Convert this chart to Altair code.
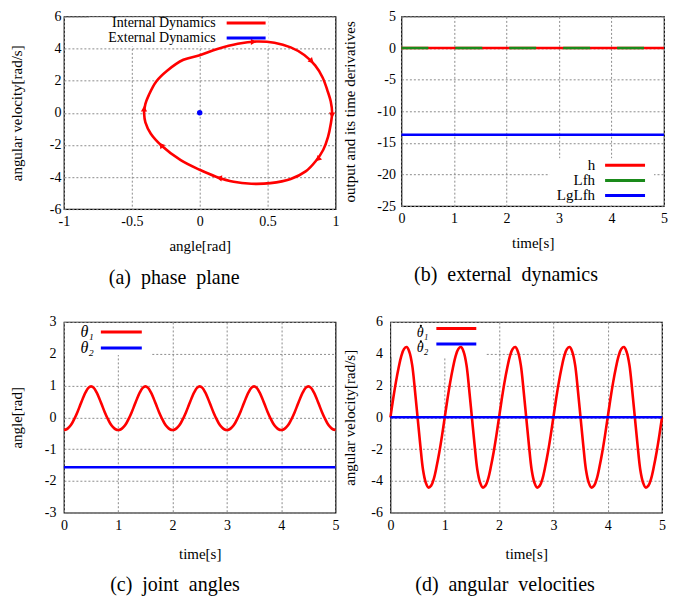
import altair as alt
import pandas as pd

FONT = "Liberation Serif"
RED = "#ff0000"
BLUE = "#0000ff"
GREEN = "#1a8a1a"
MINUS = "replace(datum.label, '\u2212', '-')"

# ---------------- (a) phase plane ----------------
PHASE_ANGLE = [-0.41, -0.40, -0.375, -0.32, -0.24, -0.12, 0.00, 0.13, 0.28, 0.42, 0.55, 0.67, 0.77, 0.85, 0.905, 0.94, 0.965, 0.975,
               0.965, 0.945, 0.91, 0.855, 0.78, 0.67, 0.52, 0.38, 0.25, 0.12, 0.00, -0.14, -0.28, -0.36, -0.40, -0.41]
PHASE_VELOCITY = [0.0, 0.55, 1.1, 1.95, 2.62, 3.3, 3.58, 3.97, 4.3, 4.44, 4.36, 4.07, 3.6, 2.95, 2.2, 1.4, 0.7, 0.0,
                  -0.7, -1.5, -2.3, -3.0, -3.65, -4.12, -4.38, -4.42, -4.3, -3.98, -3.55, -2.95, -2.05, -1.3, -0.6, 0.0]
ARROW_ANGLE = [0.39, 0.82, 0.975, 0.875, 0.15, -0.28, -0.41]
ARROW_VELOCITY = [4.42, 3.25, -0.1, -2.85, -4.07, -2.05, 0.2]
ARROW_HEADING = [90, 135, 180, 225, 277, 320, 0]
EQ_ANGLE = [0.0]
EQ_VELOCITY = [0.0]
A_XTICKS = [-1, -0.5, 0, 0.5, 1]
A_YTICKS = [-6, -4, -2, 0, 2, 4, 6]
A_NAMES = ["Internal Dynamics", "External Dynamics"]

# ---------------- (b) external dynamics ----------------
B_TIME = [0, 5]
H_VALUES = [0.0, 0.0]
LFH_VALUES = [0.0, 0.0]
LGLFH_VALUES = [-13.7, -13.7]
B_XTICKS = [0, 1, 2, 3, 4, 5]
B_YTICKS = [-25, -20, -15, -10, -5, 0, 5]
B_NAMES = ["h", "Lfh", "LgLfh"]

# ---------------- (c), (d) joint angles / velocities ----------------
TIME = [round(0.05 * i, 2) for i in range(101)]
THETA1 = [
    -0.40, -0.375, -0.30, -0.185, -0.02, 0.17, 0.385, 0.60, 0.79, 0.925, 0.975, 0.925, 0.79, 0.60, 0.385, 0.17, -0.02, -0.185, -0.30, -0.375,
    -0.40, -0.375, -0.30, -0.185, -0.02, 0.17, 0.385, 0.60, 0.79, 0.925, 0.975, 0.925, 0.79, 0.60, 0.385, 0.17, -0.02, -0.185, -0.30, -0.375,
    -0.40, -0.375, -0.30, -0.185, -0.02, 0.17, 0.385, 0.60, 0.79, 0.925, 0.975, 0.925, 0.79, 0.60, 0.385, 0.17, -0.02, -0.185, -0.30, -0.375,
    -0.40, -0.375, -0.30, -0.185, -0.02, 0.17, 0.385, 0.60, 0.79, 0.925, 0.975, 0.925, 0.79, 0.60, 0.385, 0.17, -0.02, -0.185, -0.30, -0.375,
    -0.40, -0.375, -0.30, -0.185, -0.02, 0.17, 0.385, 0.60, 0.79, 0.925, 0.975, 0.925, 0.79, 0.60, 0.385, 0.17, -0.02, -0.185, -0.30, -0.375,
    -0.40]
OMEGA1 = [
    0.0, 1.15, 2.2, 3.1, 3.85, 4.3, 4.42, 4.1, 3.3, 1.75, 0.0, -1.75, -3.3, -4.1, -4.42, -4.3, -3.85, -3.1, -2.2, -1.15,
    0.0, 1.15, 2.2, 3.1, 3.85, 4.3, 4.42, 4.1, 3.3, 1.75, 0.0, -1.75, -3.3, -4.1, -4.42, -4.3, -3.85, -3.1, -2.2, -1.15,
    0.0, 1.15, 2.2, 3.1, 3.85, 4.3, 4.42, 4.1, 3.3, 1.75, 0.0, -1.75, -3.3, -4.1, -4.42, -4.3, -3.85, -3.1, -2.2, -1.15,
    0.0, 1.15, 2.2, 3.1, 3.85, 4.3, 4.42, 4.1, 3.3, 1.75, 0.0, -1.75, -3.3, -4.1, -4.42, -4.3, -3.85, -3.1, -2.2, -1.15,
    0.0, 1.15, 2.2, 3.1, 3.85, 4.3, 4.42, 4.1, 3.3, 1.75, 0.0, -1.75, -3.3, -4.1, -4.42, -4.3, -3.85, -3.1, -2.2, -1.15,
    0.0]
FLAT_TIME = [0, 5]
THETA2 = [-1.57, -1.57]
OMEGA2 = [0.0, 0.0]
C_YTICKS = [-3, -2, -1, 0, 1, 2, 3]
D_YTICKS = [-6, -4, -2, 0, 2, 4, 6]
T_XTICKS = [0, 1, 2, 3, 4, 5]
C_NAMES = ["\u03b8\u2081", "\u03b8\u2082"]
D_NAMES = ["\u03b8\u2081", "\u03b8\u2082"]   # drawn with a dot above (time derivative)

CAPTIONS = ["(a)\u2002phase\u2002plane", "(b)\u2002external\u2002dynamics",
            "(c)\u2002joint\u2002angles", "(d)\u2002angular\u2002velocities"]

ONE = pd.DataFrame({"k": [0]})


def axis(values, title, lpad, tpad):
    return alt.Axis(values=values, title=title, labelPadding=lpad, titlePadding=tpad,
                    format="~g", labelExpr=MINUS)


def caption(text, offset):
    return alt.TitleParams(text, orient="bottom", anchor="middle", frame="bounds", font=FONT,
                           fontSize=20, fontWeight="normal", color="black", offset=offset)


def legend(names, colors, text_right, line_x1, line_x2, rows, text_dy, box, size=15, style="normal"):
    x1, x2, y1, y2 = box
    back = [alt.Chart(ONE).mark_rect(color="white", opacity=1).encode(
        x=alt.value(x1), x2=alt.value(x2), y=alt.value(y1), y2=alt.value(y2))]
    front = []
    for name, color, y in zip(names, colors, rows):
        front.append(alt.Chart(ONE).mark_rule(color=color, strokeWidth=3).encode(
            x=alt.value(line_x1), x2=alt.value(line_x2), y=alt.value(y)))
        front.append(alt.Chart(ONE).mark_text(align="right", baseline="middle", font=FONT, fontSize=size,
                                              fontStyle=style, color="black").encode(
            x=alt.value(text_right), y=alt.value(y + text_dy), text=alt.value(name)))
    return back, front


# ---------- panel (a) ----------
pa = pd.DataFrame({"angle": PHASE_ANGLE, "vel": PHASE_VELOCITY, "idx": list(range(len(PHASE_ANGLE)))})
arrows = pd.DataFrame({"angle": ARROW_ANGLE, "vel": ARROW_VELOCITY, "heading": ARROW_HEADING})
eq = pd.DataFrame({"angle": EQ_ANGLE, "vel": EQ_VELOCITY})
xa = alt.X("angle:Q", scale=alt.Scale(domain=[-1, 1], nice=False, zero=False),
           axis=axis(A_XTICKS, "angle[rad]", 5, 10))
ya = alt.Y("vel:Q", scale=alt.Scale(domain=[-6, 6], nice=False, zero=False),
           axis=axis(A_YTICKS, "angular velocity[rad/s]", 3, 25))
box_a, leg_a = legend(A_NAMES, [RED, BLUE], 152, 163, 202, [6.5, 21.5], 0, (25, 205, 1, 30), size=14)
panel_a = alt.layer(
    *box_a,
    alt.Chart(pa).mark_line(color=RED, strokeWidth=2.6, interpolate="catmull-rom").encode(
        x=xa, y=ya, order="idx:Q"),
    alt.Chart(arrows).mark_point(shape="triangle", filled=True, size=40, color=RED, opacity=1).encode(
        x=xa, y=ya, angle=alt.Angle("heading:Q", scale=None)),
    alt.Chart(eq).mark_circle(color=BLUE, size=30, opacity=1).encode(x=xa, y=ya),
    *leg_a,
).properties(width=272, height=193, title=caption(CAPTIONS[0], 15))

# ---------- panel (b) ----------
pb = pd.DataFrame({"t": B_TIME, "h": H_VALUES, "lfh": LFH_VALUES, "lglfh": LGLFH_VALUES})
xb = alt.X("t:Q", scale=alt.Scale(domain=[0, 5], nice=False, zero=False),
           axis=axis(B_XTICKS, "time[s]", 5, 10))


def yb(field):
    return alt.Y(field, type="quantitative", scale=alt.Scale(domain=[-25, 5], nice=False, zero=False),
                 axis=axis(B_YTICKS, "output and its time derivatives", 6, 19))


box_b, leg_b = legend(B_NAMES, [RED, GREEN, BLUE], 194, 204, 244, [149, 164.3, 179.3], 0, (148, 253, 142, 189))
panel_b = alt.layer(
    *box_b,
    alt.Chart(pb).mark_line(color=RED, strokeWidth=2.6).encode(x=xb, y=yb("h")),
    alt.Chart(pb).mark_line(color=GREEN, strokeWidth=2.6, strokeDash=[27, 27]).encode(x=xb, y=yb("lfh")),
    alt.Chart(pb).mark_line(color=BLUE, strokeWidth=2.6).encode(x=xb, y=yb("lglfh")),
    *leg_b,
).properties(width=263, height=190, title=caption(CAPTIONS[1], 15))

# ---------- panel (c) ----------
pc1 = pd.DataFrame({"t": TIME, "v": THETA1})
pc2 = pd.DataFrame({"t": FLAT_TIME, "v": THETA2})
xt = alt.X("t:Q", scale=alt.Scale(domain=[0, 5], nice=False, zero=False),
           axis=axis(T_XTICKS, "time[s]", 6, 14))
yc = alt.Y("v:Q", scale=alt.Scale(domain=[-3, 3], nice=False, zero=False),
           axis=axis(C_YTICKS, "angle[rad]", 8, 20))
box_c, leg_c = legend(C_NAMES, [RED, BLUE], 30, 37, 78, [10, 26], 0, (1, 87, 1, 33), size=16, style="italic")
panel_c = alt.layer(
    *box_c,
    alt.Chart(pc1).mark_line(color=RED, strokeWidth=2.6, interpolate="catmull-rom").encode(x=xt, y=yc),
    alt.Chart(pc2).mark_line(color=BLUE, strokeWidth=2.6).encode(x=xt, y=yc),
    *leg_c,
).properties(width=272, height=191, title=caption(CAPTIONS[2], 13))

# ---------- panel (d) ----------
pd1 = pd.DataFrame({"t": TIME, "v": OMEGA1})
pd2 = pd.DataFrame({"t": FLAT_TIME, "v": OMEGA2})
yd = alt.Y("v:Q", scale=alt.Scale(domain=[-6, 6], nice=False, zero=False),
           axis=axis(D_YTICKS, "angular velocity[rad/s]", 8, 13))
D_ROWS = [6.5, 22]
box_d, leg_d = legend(D_NAMES, [RED, BLUE], 38, 46, 86, D_ROWS, 4.5, (1, 95, 1, 35), size=14, style="italic")
dots_d = [alt.Chart(ONE).mark_circle(color="black", size=5, opacity=1).encode(
    x=alt.value(30.5), y=alt.value(row - 2.5)) for row in D_ROWS]
panel_d = alt.layer(
    *box_d,
    alt.Chart(pd1).mark_line(color=RED, strokeWidth=2.6, interpolate="catmull-rom").encode(x=xt, y=yd),
    alt.Chart(pd2).mark_line(color=BLUE, strokeWidth=2.6).encode(x=xt, y=yd),
    *leg_d,
    *dots_d,
).properties(width=272, height=191, title=caption(CAPTIONS[3], 13))

chart = alt.concat(
    panel_a, panel_b, panel_c, panel_d, columns=2, align="none", bounds="full",
    spacing=alt.RowColnumber(row=25, column=0),
).properties(
    padding={"left": 0, "top": 0, "right": 0, "bottom": 0}
).configure_view(stroke="black", strokeWidth=1.2).configure_axis(
    labelFont=FONT, labelFontSize=14, labelColor="black",
    titleFont=FONT, titleFontSize=15, titleFontWeight="normal", titleColor="black",
    grid=True, gridColor="#8c8c8c", gridDash=[2, 2], gridWidth=1,
    domain=False, ticks=False, tickSize=0, labelFlush=False, labelOverlap=False,
)

chart.save("out.html", embed_options={"renderer": "svg", "actions": False})
